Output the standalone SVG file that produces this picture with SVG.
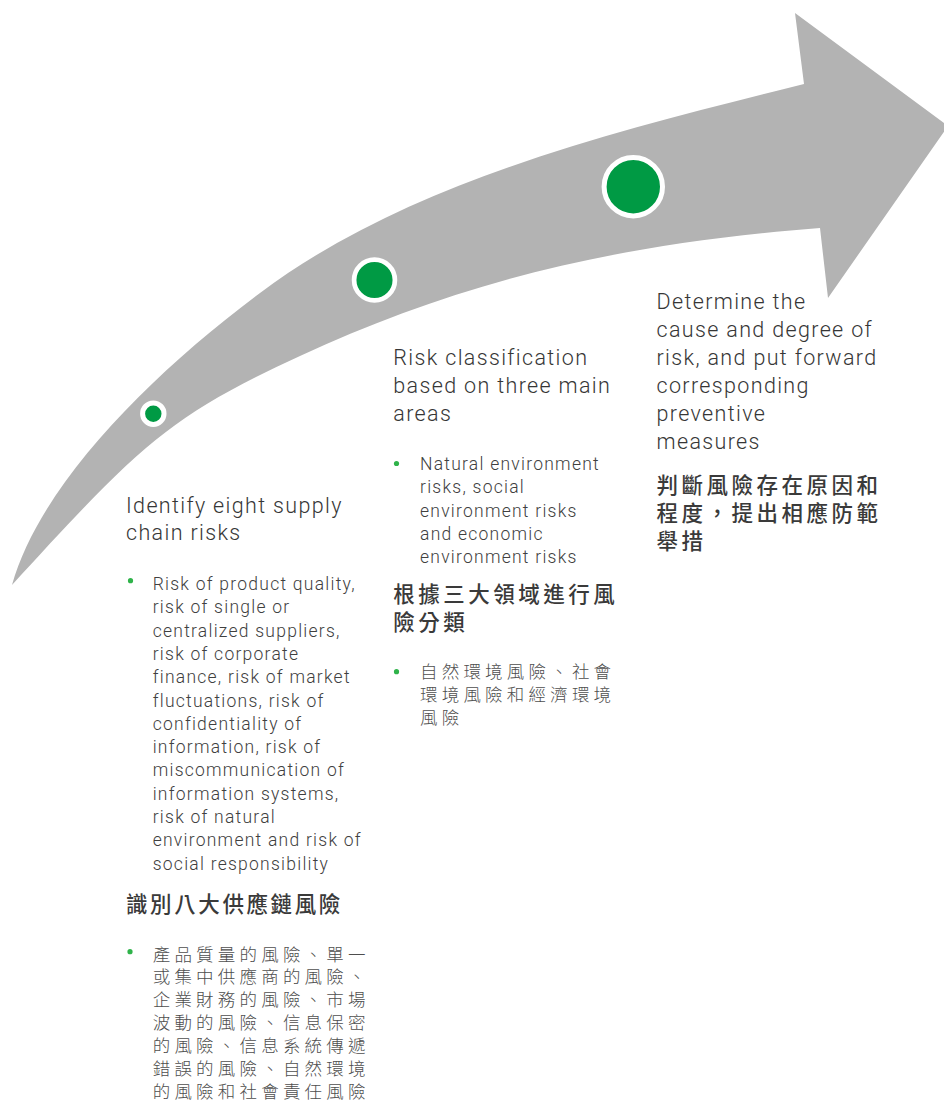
<svg xmlns="http://www.w3.org/2000/svg" width="944" height="1101" viewBox="0 0 944 1101">
<style>
.en-h{font-family:Roboto,"Liberation Sans",Arial,sans-serif;font-weight:300;font-size:21.5px;letter-spacing:1.35px;fill:#363636}
.en-b{font-family:Roboto,"Liberation Sans",Arial,sans-serif;font-weight:300;font-size:17.5px;letter-spacing:1.25px;fill:#404040}
.zh-h{font-family:"Noto Sans CJK TC","Noto Sans CJK SC",sans-serif;font-weight:500;font-size:21.5px;fill:#3a3a3a}
.zh-b{font-family:"Noto Sans CJK TC","Noto Sans CJK SC",sans-serif;font-weight:300;font-size:17.5px;letter-spacing:4.2px;fill:#4e4e4e}
.dot{fill:#009a44;stroke:#ffffff}
.bul{fill:#2fb34a}
</style>
<rect width="944" height="1101" fill="#ffffff"/>
<g id="connectors">
<path d="M 12,585 C 40,485 150,375 260,293 C 410,180 624,129 804,84 L 795,13 L 948,126 L 828,298 L 820,228 C 600,245 450,287 300,356 C 170,416 140,445 12,585 Z" fill="#b3b3b3"/>
</g>
<g id="step1">
<circle class="dot" cx="153.3" cy="413.7" r="10.7" stroke-width="5"/>
<text class="en-h"><tspan x="126" y="512.5">Identify eight supply</tspan><tspan x="126" y="539.5">chain risks</tspan></text>
<circle class="bul" cx="130.5" cy="580.7" r="2.6"/>
<text class="en-b"><tspan x="152.7" y="590">Risk of product quality,</tspan><tspan x="152.7" y="613.3">risk of single or</tspan><tspan x="152.7" y="636.6">centralized suppliers,</tspan><tspan x="152.7" y="659.9">risk of corporate</tspan><tspan x="152.7" y="683.2">finance, risk of market</tspan><tspan x="152.7" y="706.5">fluctuations, risk of</tspan><tspan x="152.7" y="729.8">confidentiality of</tspan><tspan x="152.7" y="753.1">information, risk of</tspan><tspan x="152.7" y="776.4">miscommunication of</tspan><tspan x="152.7" y="799.7">information systems,</tspan><tspan x="152.7" y="823">risk of natural</tspan><tspan x="152.7" y="846.3">environment and risk of</tspan><tspan x="152.7" y="869.6">social responsibility</tspan></text>
<text class="zh-h" letter-spacing="2.6"><tspan x="126" y="912">識別八大供應鏈風險</tspan></text>
<circle class="bul" cx="130" cy="951.7" r="2.6"/>
<text class="zh-b"><tspan x="152.7" y="960.5">產品質量的風險、單一</tspan><tspan x="152.7" y="983.4">或集中供應商的風險、</tspan><tspan x="152.7" y="1006.3">企業財務的風險、市場</tspan><tspan x="152.7" y="1029.2">波動的風險、信息保密</tspan><tspan x="152.7" y="1052.1">的風險、信息系統傳遞</tspan><tspan x="152.7" y="1075">錯誤的風險、自然環境</tspan><tspan x="152.7" y="1097.9">的風險和社會責任風險</tspan></text>
</g>
<g id="step2">
<circle class="dot" cx="374.5" cy="280" r="20.4" stroke-width="4.7"/>
<text class="en-h"><tspan x="393.3" y="365">Risk classification</tspan><tspan x="393.3" y="393">based on three main</tspan><tspan x="393.3" y="421">areas</tspan></text>
<circle class="bul" cx="396.5" cy="463.5" r="2.6"/>
<text class="en-b"><tspan x="420" y="470">Natural environment</tspan><tspan x="420" y="493.3">risks, social</tspan><tspan x="420" y="516.6">environment risks</tspan><tspan x="420" y="539.9">and economic</tspan><tspan x="420" y="563.2">environment risks</tspan></text>
<text class="zh-h" letter-spacing="3.5"><tspan x="393.3" y="602">根據三大領域進行風</tspan><tspan x="393.3" y="630">險分類</tspan></text>
<circle class="bul" cx="396.5" cy="671.7" r="2.6"/>
<text class="zh-b"><tspan x="420" y="678">自然環境風險、社會</tspan><tspan x="420" y="701">環境風險和經濟環境</tspan><tspan x="420" y="724">風險</tspan></text>
</g>
<g id="step3">
<circle class="dot" cx="633.3" cy="186.7" r="29.2" stroke-width="5"/>
<text class="en-h"><tspan x="656.5" y="308.5">Determine the</tspan><tspan x="656.5" y="336.5">cause and degree of</tspan><tspan x="656.5" y="364.5">risk, and put forward</tspan><tspan x="656.5" y="392.5">corresponding</tspan><tspan x="656.5" y="420.5">preventive</tspan><tspan x="656.5" y="448.5">measures</tspan></text>
<text class="zh-h" letter-spacing="3.5"><tspan x="656.5" y="492.5">判斷風險存在原因和</tspan><tspan x="656.5" y="520.5">程度，提出相應防範</tspan><tspan x="656.5" y="548.5">舉措</tspan></text>
</g>
</svg>
